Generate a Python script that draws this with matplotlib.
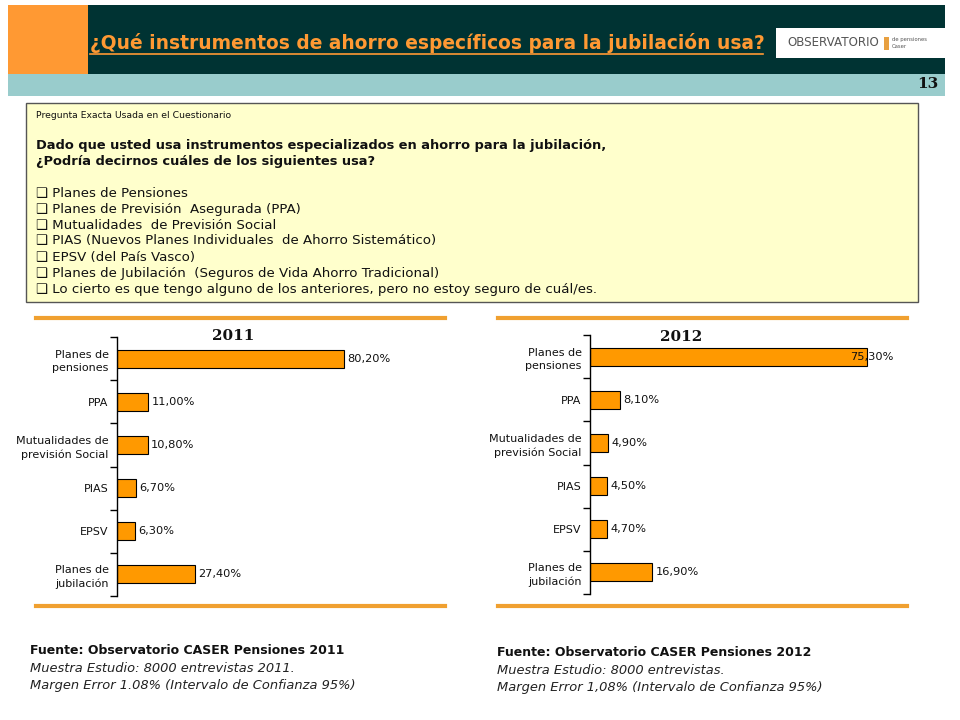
""" plot.py """

import matplotlib
matplotlib.use("Agg")
import matplotlib.pyplot as plt
from matplotlib.patches import Rectangle
from matplotlib.lines import Line2D

W, H = 960, 720

categories = ["Planes de\npensiones", "PPA", "Mutualidades de\nprevisión Social",
              "PIAS", "EPSV", "Planes de\njubilación"]
values_2011 = [80.2, 11.0, 10.8, 6.7, 6.3, 27.4]
values_2012 = [75.3, 8.1, 4.9, 4.5, 4.7, 16.9]

title = "¿Qué instrumentos de ahorro específicos para la jubilación usa?"
question = ["Dado que usted usa instrumentos especializados en ahorro para la jubilación,",
            "¿Podría decirnos cuáles de los siguientes usa?"]
options = ["Planes de Pensiones",
           "Planes de Previsión  Asegurada (PPA)",
           "Mutualidades  de Previsión Social",
           "PIAS (Nuevos Planes Individuales  de Ahorro Sistemático)",
           "EPSV (del País Vasco)",
           "Planes de Jubilación  (Seguros de Vida Ahorro Tradicional)",
           "Lo cierto es que tengo alguno de los anteriores, pero no estoy seguro de cuál/es."]
sources = [("Fuente: Observatorio CASER Pensiones 2011",
            "Muestra Estudio: 8000 entrevistas 2011.",
            "Margen Error 1.08% (Intervalo de Confianza 95%)"),
           ("Fuente: Observatorio CASER Pensiones 2012",
            "Muestra Estudio: 8000 entrevistas.",
            "Margen Error 1,08% (Intervalo de Confianza 95%)")]

ORANGE = "#FF9900"
LINE_ORANGE = "#F0A030"


def fx(x):
    return x / W


def fy(y):
    return 1 - y / H


def rect(fig, x0, y0, x1, y1, **kw):
    fig.add_artist(Rectangle((fx(x0), fy(y1)), fx(x1 - x0), (y1 - y0) / H,
                             transform=fig.transFigure, **kw))


def hline(fig, x0, x1, y, **kw):
    fig.add_artist(Line2D([fx(x0), fx(x1)], [fy(y), fy(y)],
                          transform=fig.transFigure, **kw))


def ptext(fig, x, y, s, **kw):
    kw.setdefault("va", "center")
    return fig.text(fx(x), fy(y), s, **kw)


def bar_chart(fig, box, vals, xmax):
    x0, y0, x1, y1 = box
    ax = fig.add_axes([fx(x0), fy(y1), fx(x1 - x0), (y1 - y0) / H])
    pos = list(range(len(categories)))
    ax.barh(pos, vals, height=0.42, color=ORANGE, edgecolor="black", linewidth=0.8)
    ax.set_xlim(0, xmax)
    ax.set_ylim(len(categories) - 0.5, -0.5)
    for s in ["top", "right", "bottom"]:
        ax.spines[s].set_visible(False)
    ax.spines["left"].set_linewidth(1.0)
    ax.set_xticks([])
    ax.set_yticks(pos)
    ax.set_yticklabels(categories, fontsize=8.0, color="#111111", linespacing=1.45)
    ax.tick_params(axis="y", length=0, pad=6)
    ax.set_yticks([p - 0.5 for p in pos] + [len(pos) - 0.5], minor=True)
    ax.tick_params(axis="y", which="minor", length=5, width=1.0)
    for p, v in zip(pos, vals):
        lab = f"{v:.2f}%".replace(".", ",")
        if v > xmax * 0.9:
            ax.text(xmax, p, lab, ha="right", va="center", fontsize=8.2, color="#111111")
        else:
            ax.text(v + xmax * 0.012, p, lab, ha="left", va="center",
                    fontsize=8.2, color="#111111")
    ax.patch.set_alpha(0)
    return ax


fig = plt.figure(figsize=(W / 100, H / 100), dpi=100)
fig.patch.set_facecolor("white")

# header
rect(fig, 88, 5, 945, 74, facecolor="#003333", edgecolor="none")
rect(fig, 8, 5, 88, 74, facecolor="#FF9933", edgecolor="none")
rect(fig, 8, 74, 945, 96, facecolor="#99CCCC", edgecolor="none")
ptext(fig, 928, 84, "13", fontsize=11, fontweight="bold", color="#111111",
      family="DejaVu Serif", ha="center")
ptext(fig, 90, 43, title, fontsize=13.4, fontweight="bold", color="#FF9933",
      ha="left")
hline(fig, 90, 763, 54, color="#FF9933", linewidth=1.2)

# logo
rect(fig, 776, 28, 948, 58, facecolor="white", edgecolor="none")
ptext(fig, 787, 43, "OBSERVATORIO", fontsize=8.6, color="#555555", ha="left")
rect(fig, 884, 37, 889, 50, facecolor="#E8A040", edgecolor="none")
ptext(fig, 892, 39, "de pensiones", fontsize=3.8, color="#555555", ha="left")
ptext(fig, 892, 46, "Caser", fontsize=3.8, color="#555555", ha="left")

# question box
rect(fig, 26, 103, 918, 302, facecolor="#FFFFCC", edgecolor="#555555", linewidth=1.0)
ptext(fig, 36, 115, "Pregunta Exacta Usada en el Cuestionario", fontsize=6.7,
      color="#111111", ha="left")
for i, line in enumerate(question):
    ptext(fig, 36, 145 + i * 17, line, fontsize=9.4, fontweight="bold",
          color="#111111", ha="left")
for i, opt in enumerate(options):
    ptext(fig, 36, 193 + i * 16, "\u2751 " + opt, fontsize=9.6, color="#111111",
          ha="left")

# chart frames
for xa, xb in [(36, 445), (498, 907)]:
    hline(fig, xa, xb, 318, color=LINE_ORANGE, linewidth=3)
    hline(fig, xa, xb, 606, color=LINE_ORANGE, linewidth=3)

bar_chart(fig, (117, 337, 400, 596), values_2011, 100)
bar_chart(fig, (590, 335, 893, 594), values_2012, 82.3)
ptext(fig, 233, 336, "2011", fontsize=11, fontweight="bold", family="DejaVu Serif",
      ha="center", color="#111111")
ptext(fig, 681, 337, "2012", fontsize=11, fontweight="bold", family="DejaVu Serif",
      ha="center", color="#111111")

# sources
for (src, m1, m2), x, y in zip(sources, [30, 497], [651, 653]):
    ptext(fig, x, y, src, fontsize=9.0, fontweight="bold", color="#111111", ha="left")
    ptext(fig, x, y + 18, m1, fontsize=9.4, style="italic", color="#222222", ha="left")
    ptext(fig, x, y + 35, m2, fontsize=9.4, style="italic", color="#222222", ha="left")

fig.savefig("out.png", dpi=100)
